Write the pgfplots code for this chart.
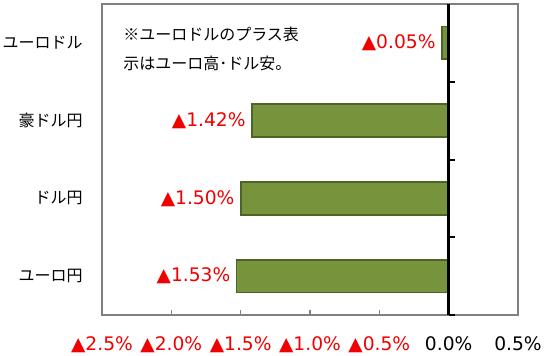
\documentclass[border=0pt]{standalone}
\usepackage{pgfplots}
\pgfplotsset{compat=1.18}
\usepackage{pgfplotstable}
\usepackage{fontspec}
\setmainfont{DejaVu Sans}
\newfontfamily\jp{Noto Sans CJK JP}
\definecolor{barfill}{HTML}{77933C}
\definecolor{bardraw}{HTML}{4F6228}
\definecolor{framegray}{HTML}{808080}
\definecolor{labred}{HTML}{F00000}
\pgfplotstableread{
y x lab
0 -1.53 1.53
1 -1.50 1.50
2 -1.42 1.42
3 -0.05 0.05
}\datatab
\begin{document}
\begin{tikzpicture}
\useasboundingbox (-76.5pt,-30pt) rectangle (336pt,236.25pt);
\begin{axis}[
 scale only axis, width=312pt, height=233.25pt,
 xmin=-2.5, xmax=0.5, ymin=-0.5, ymax=3.5,
 axis line style={framegray, line width=1.3pt},
 xtick={-2.5,-2,-1.5,-1,-0.5,0,0.5},
 xticklabels={{\textcolor{labred}{▲2.5\%}},{\textcolor{labred}{▲2.0\%}},{\textcolor{labred}{▲1.5\%}},{\textcolor{labred}{▲1.0\%}},{\textcolor{labred}{▲0.5\%}},{0.0\%},{0.5\%}},
 xtick pos=bottom, tick align=inside,
 x tick style={framegray, line width=1pt},
 major tick length=4pt,
 xticklabel style={font=\fontsize{14}{16}\selectfont, yshift=-13pt, inner xsep=0pt},
 ytick={0,1,2,3},
 yticklabels={ユーロ円,ドル円,豪ドル円,ユーロドル},
 y tick style={draw=none},
 yticklabel style={font=\jp\fontsize{12}{14}\selectfont, xshift=-7pt},
 xbar, bar width=0.42,
 nodes near coords={\textcolor{labred}{▲\pgfplotspointmeta\%}},
 point meta=explicit symbolic,
 nodes near coords style={font=\fontsize{14}{16}\selectfont, anchor=east, inner xsep=4pt},
 clip=false,
]
\addplot[fill=barfill, draw=bardraw, line width=1.3pt] table[x=x, y=y, meta=lab] {\datatab};
\draw[black, line width=2.2pt] (axis cs:0,-0.5) -- (axis cs:0,3.5);
\pgfplotsinvokeforeach{-0.5,0.5,1.5,2.5}{
  \draw[black, line width=1.5pt] (axis cs:0,#1) -- ([xshift=5pt]axis cs:0,#1);
}
\node[anchor=north west, inner sep=0pt, align=left, font=\jp\fontsize{12}{21.75}\selectfont]
  at ([xshift=15.75pt,yshift=-17pt]rel axis cs:0,1) {※ユーロドルのプラス表\\示はユーロ高･ドル安。};
\end{axis}
\end{tikzpicture}
\end{document}
